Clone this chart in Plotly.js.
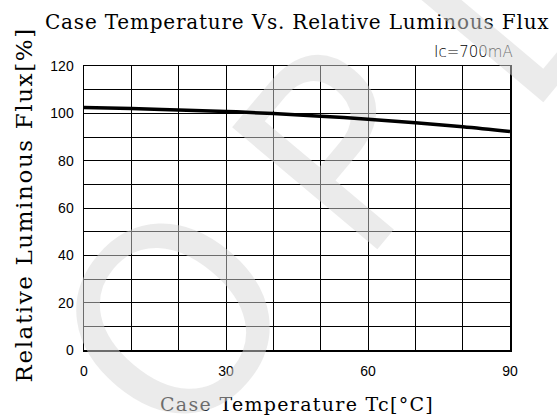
<!DOCTYPE html>
<html>
<head>
<meta charset="utf-8">
<script src="https://cdn.plot.ly/plotly-3.0.1.min.js"></script>
<style>
html,body{margin:0;padding:0;background:#fff;}
#wrap{position:relative;width:557px;height:416px;}
#chart,#curve{position:absolute;left:0;top:0;width:557px;height:416px;}
text[data-unformatted="Case Temperature Vs. Relative Luminous Flux"]{letter-spacing:0.8px;}
text[data-unformatted="Case Temperature Tc[°C]"]{letter-spacing:1.3px;}
text[data-unformatted="Relative Luminous Flux[%]"]{letter-spacing:1.6px;}
</style>
</head>
<body>
<div id="wrap"><div id="chart"></div><div id="curve"></div></div>
<script>
const temperature = [0, 10, 20, 30, 40, 50, 60, 70, 80, 90];
const relativeFlux = [102.5, 102.0, 101.4, 100.8, 99.9, 98.8, 97.5, 96.0, 94.3, 92.3];
const xTickVals = [0, 30, 60, 90];
const yTickVals = [0, 20, 40, 60, 80, 100, 120];
const watermarkLetters = ['O', 'P', 'L'];

const serif = "DejaVu Serif, serif";
const sans = "Liberation Sans, Arial, sans-serif";
const margin = {l: 84, r: 47, t: 66, b: 66};

function axis(tv, range, show) {
  return {
    range: range, tickvals: tv, ticks: '', showline: show, mirror: true,
    linecolor: '#000', linewidth: 1.5, showgrid: show, gridcolor: '#000', gridwidth: 1,
    minor: {dtick: 10, tick0: 0, showgrid: show, gridcolor: '#000', gridwidth: 1},
    zeroline: false, fixedrange: true, showticklabels: show,
    tickfont: {family: sans, size: 14, color: '#000'}
  };
}

const xa = axis(xTickVals, [0, 90], true); xa.ticklabelstandoff = 8;
const ya = axis(yTickVals, [0, 120], true); ya.ticklabelstandoff = 6;

const wmPos = [[0.218, 0.102], [0.606, 0.701], [0.988, 1.204]];
const wmAnn = watermarkLetters.map((ch, i) => ({
  text: ch, xref: 'paper', yref: 'paper', x: wmPos[i][0], y: wmPos[i][1],
  xanchor: 'center', yanchor: 'middle', showarrow: false, textangle: -50,
  font: {family: 'DejaVu Sans, sans-serif', size: 260, color: 'rgba(215,215,215,0.5)'}
}));

const layout = {
  width: 557, height: 416, margin: margin,
  paper_bgcolor: '#fff', plot_bgcolor: '#fff', showlegend: false,
  xaxis: xa, yaxis: ya,
  annotations: [
    {text: 'Case Temperature Vs. Relative Luminous Flux', xref: 'paper', yref: 'paper',
     x: (296.5 - 84) / 426, y: (350 - 22) / 284, xanchor: 'center', yanchor: 'middle', showarrow: false,
     font: {family: serif, size: 20, color: '#000'}},
    {text: 'Ic=700mA', xref: 'paper', yref: 'paper', x: (473 - 84) / 426, y: (350 - 52.5) / 284,
     xanchor: 'center', yanchor: 'middle', showarrow: false,
     font: {family: 'DejaVu Sans, sans-serif', size: 15, weight: 200, color: '#000'}},
    {text: 'Case Temperature Tc[°C]', xref: 'paper', yref: 'paper', x: (297 - 84) / 426, y: (350 - 404) / 284,
     xanchor: 'center', yanchor: 'middle', showarrow: false,
     font: {family: serif, size: 19, color: '#000'}},
    {text: 'Relative Luminous Flux[%]', xref: 'paper', yref: 'paper', x: (23 - 84) / 426, y: (350 - 205.5) / 284,
     xanchor: 'center', yanchor: 'middle', textangle: -90, showarrow: false,
     font: {family: serif, size: 23, color: '#000'}}
  ].concat(wmAnn)
};

Plotly.newPlot('chart', [], layout, {displayModeBar: false, staticPlot: true});

const curveTrace = {
  x: temperature, y: relativeFlux, type: 'scatter', mode: 'lines',
  line: {color: '#000', width: 3.5, shape: 'spline'}, hoverinfo: 'skip'
};
const curveLayout = {
  width: 557, height: 416, margin: margin,
  paper_bgcolor: 'rgba(0,0,0,0)', plot_bgcolor: 'rgba(0,0,0,0)', showlegend: false,
  xaxis: axis(xTickVals, [0, 90], false), yaxis: axis(yTickVals, [0, 120], false)
};
Plotly.newPlot('curve', [curveTrace], curveLayout, {displayModeBar: false, staticPlot: true});
</script>
</body>
</html>
